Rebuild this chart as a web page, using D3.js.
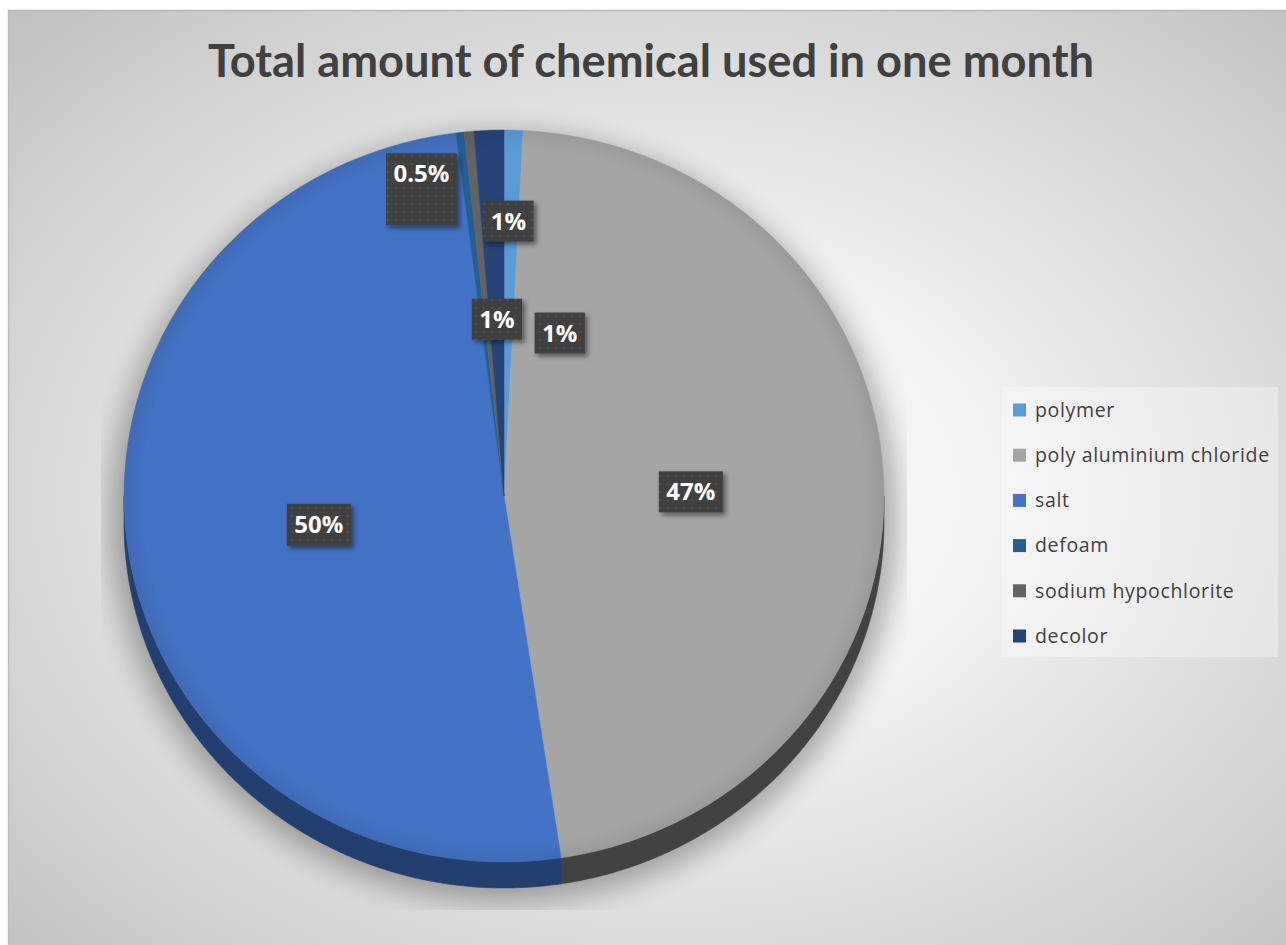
<!DOCTYPE html>
<html>
<head>
<meta charset="utf-8">
<script src="https://cdn.jsdelivr.net/npm/d3@7"></script>
<style>
  html, body { margin: 0; padding: 0; background: #ffffff; }
  svg { display: block; }
</style>
</head>
<body>
<svg id="chart" width="1286" height="945"></svg>
<script>
// ---------- data ----------
const categories = ["polymer", "poly aluminium chloride", "salt", "defoam", "sodium hypochlorite", "decolor"];
const values = [0.8, 46.8, 50.38, 0.34, 0.42, 1.26];
const labelTexts = ["1%", "47%", "50%", "1%", "0.5%", "1%"];
const topColors = ["#5B9BD5", "#A5A5A5", "#4472C4", "#255E91", "#636363", "#264478"];
const sideColors = ["#3a6f9f", "#424242", "#233f70", "#17405f", "#3c3c3c", "#172c4d"];
const titleText = "Total amount of chemical used in one month";

// ---------- layout constants ----------
const W = 1286, H = 945;
const cx = 504, cy = 496, rx = 380, ry = 366, depth = 26;
// nudges (px) of each data label from its default mid-angle half-radius spot
const labelNudge = [[51, 20], [-3, 5], [3, 3], [15, 5], [-65, -140], [12, -92]];
const labelExtraBelow = [0, 0, 1, 0, 31, 0];

const svg = d3.select("#chart");
const defs = svg.append("defs");

// background radial gradient
const bg = defs.append("radialGradient").attr("id", "bgGrad")
  .attr("cx", "0.52").attr("cy", "0.52").attr("r", "0.72");
bg.append("stop").attr("offset", "0").attr("stop-color", "#ffffff");
bg.append("stop").attr("offset", "0.35").attr("stop-color", "#f2f2f2");
bg.append("stop").attr("offset", "1").attr("stop-color", "#c2c2c2");

// shadow blur for pie
const fBlur = defs.append("filter").attr("id", "pieShadow")
  .attr("x", "-20%").attr("y", "-20%").attr("width", "140%").attr("height", "140%");
fBlur.append("feGaussianBlur").attr("stdDeviation", 14);

// label shadow
const fLab = defs.append("filter").attr("id", "labShadow")
  .attr("x", "-30%").attr("y", "-30%").attr("width", "170%").attr("height", "170%");
fLab.append("feDropShadow").attr("dx", 3).attr("dy", 3).attr("stdDeviation", 2.5)
  .attr("flood-color", "#000").attr("flood-opacity", 0.45);

// dot pattern for label boxes
const pat = defs.append("pattern").attr("id", "dots").attr("patternUnits", "userSpaceOnUse")
  .attr("width", 8).attr("height", 8);
pat.append("rect").attr("width", 8).attr("height", 8).attr("fill", "#404040");
pat.append("circle").attr("cx", 4).attr("cy", 4).attr("r", 1.3).attr("fill", "#4e4e4e");

// plot area clip for shadow
defs.append("clipPath").attr("id", "plotClip")
  .append("rect").attr("x", 101).attr("y", 100).attr("width", 806).attr("height", 810);

// ---------- chart area ----------
svg.append("rect").attr("x", 8).attr("y", 10).attr("width", W - 8).attr("height", H - 10)
  .attr("fill", "url(#bgGrad)");
svg.append("line").attr("x1", 8).attr("y1", 10.5).attr("x2", W).attr("y2", 10.5)
  .attr("stroke", "#b8b8b8").attr("stroke-width", 1.5);
svg.append("line").attr("x1", 8.5).attr("y1", 10).attr("x2", 8.5).attr("y2", H)
  .attr("stroke", "#bdbdbd").attr("stroke-width", 1.5);

// title
svg.append("text").attr("x", 651).attr("y", 77)
  .attr("text-anchor", "middle")
  .attr("font-family", "Lato, 'Open Sans', sans-serif")
  .attr("font-weight", 700).attr("font-size", 45)
  .attr("fill", "#404040")
  .attr("textLength", 886).attr("lengthAdjust", "spacingAndGlyphs")
  .text(titleText);

// ---------- pie ----------
const pie = d3.pie().sort(null).value(d => d)
  .startAngle(0).endAngle(2 * Math.PI);
const arcs = pie(values);

// shadow
svg.append("g").attr("clip-path", "url(#plotClip)")
  .append("ellipse").attr("cx", cx).attr("cy", cy + 22).attr("rx", rx + 14).attr("ry", ry + 18)
  .attr("fill", "#000").attr("opacity", 0.3).attr("filter", "url(#pieShadow)");

// sides (front half only)
const ex = a => cx + rx * Math.sin(a);
const ey = a => cy - ry * Math.cos(a);
const sideG = svg.append("g");
arcs.forEach((d, i) => {
  const a0 = Math.max(d.startAngle, Math.PI / 2);
  const a1 = Math.min(d.endAngle, 3 * Math.PI / 2);
  if (a1 <= a0) return;
  const n = Math.max(4, Math.ceil((a1 - a0) / 0.01));
  const pts = [];
  for (let k = 0; k <= n; k++) { const a = a0 + (a1 - a0) * k / n; pts.push([ex(a), ey(a)]); }
  for (let k = n; k >= 0; k--) { const a = a0 + (a1 - a0) * k / n; pts.push([ex(a), ey(a) + depth]); }
  sideG.append("path").attr("d", d3.line()(pts) + "Z")
    .attr("fill", sideColors[i]).attr("stroke", sideColors[i]).attr("stroke-width", 0.6);
});

// top face
const arcGen = d3.arc().innerRadius(0).outerRadius(rx);
svg.append("g").attr("transform", `translate(${cx},${cy}) scale(1,${ry / rx})`)
  .selectAll("path").data(arcs).join("path")
  .attr("d", arcGen)
  .attr("fill", (d, i) => topColors[i])
  .attr("stroke", (d, i) => topColors[i]).attr("stroke-width", 0.5);

// subtle rim darkening on top face
const rim = defs.append("radialGradient").attr("id", "rimGrad")
  .attr("cx", 0.5).attr("cy", 0.5).attr("r", 0.5);
rim.append("stop").attr("offset", "0.95").attr("stop-color", "#000").attr("stop-opacity", 0);
rim.append("stop").attr("offset", "1").attr("stop-color", "#000").attr("stop-opacity", 0.07);
svg.append("ellipse").attr("cx", cx).attr("cy", cy).attr("rx", rx).attr("ry", ry)
  .attr("fill", "url(#rimGrad)");

// ---------- data labels ----------
const labelArc = d3.arc().innerRadius(rx).outerRadius(0);
const labG = svg.append("g");
arcs.forEach((d, i) => {
  const c = labelArc.centroid(d); // half radius at mid-angle
  const x = cx + c[0] + labelNudge[i][0];
  const y = cy + c[1] * (ry / rx) + labelNudge[i][1];
  const g = labG.append("g");
  const t = g.append("text").attr("x", x).attr("y", y).attr("dy", "0.36em")
    .attr("text-anchor", "middle")
    .attr("font-family", "'Open Sans', sans-serif").attr("font-weight", 700)
    .attr("font-size", 24).attr("fill", "#ffffff").text(labelTexts[i]);
  const w = t.node().getComputedTextLength() + 15;
  g.insert("rect", "text").attr("x", x - w / 2).attr("y", y - 20.5)
    .attr("width", w).attr("height", 41 + labelExtraBelow[i])
    .attr("fill", "url(#dots)").attr("filter", "url(#labShadow)");
});

// ---------- legend ----------
const legend = svg.append("g");
legend.append("rect").attr("x", 1002).attr("y", 387).attr("width", 276).attr("height", 270)
  .attr("fill", "#ffffff").attr("opacity", 0.35);
const rowY = d3.scalePoint().domain(categories).range([410, 636]);
categories.forEach((c, i) => {
  legend.append("rect").attr("x", 1013).attr("y", rowY(c) - 6.5).attr("width", 13).attr("height", 13)
    .attr("fill", topColors[i]);
  legend.append("text").attr("x", 1035).attr("y", rowY(c)).attr("dy", "0.35em")
    .attr("font-family", "'Open Sans', sans-serif").attr("font-size", 19.5)
    .attr("letter-spacing", 0.65)
    .attr("fill", "#404040").text(c);
});
</script>
</body>
</html>
